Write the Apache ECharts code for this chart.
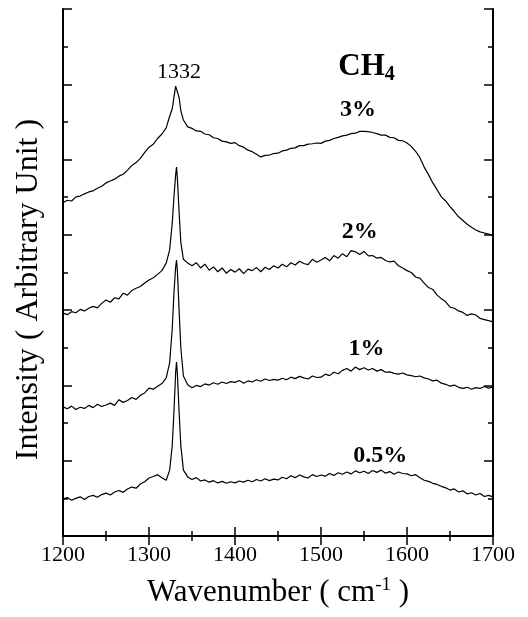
<!DOCTYPE html>
<html>
<head>
<meta charset="utf-8">
<script src="https://cdn.jsdelivr.net/npm/echarts@6/dist/echarts.min.js"></script>
<style>
  html, body { margin: 0; padding: 0; background: #fff; }
  #chart { width: 528px; height: 617px; }
</style>
</head>
<body>
<div id="chart"></div>
<script>
// wavenumber grid (cm-1), denser around the diamond line
var wn = [1200,1205,1210,1215,1220,1225,1230,1235,1240,1245,
  1250,1255,1260,1265,1270,1275,1280,1285,1290,1295,
  1300,1305,1310,1315,1320,
  1324,1327,1329,1331,1332,1333,1335,1337,1340,
  1345,1350,1355,1360,1365,1370,1375,1380,1385,1390,
  1395,1400,1405,1410,1415,1420,1425,1430,1435,1440,
  1445,1450,1455,1460,1465,1470,1475,1480,1485,1490,
  1495,1500,1505,1510,1515,1520,1525,1530,1535,1540,
  1545,1550,1555,1560,1565,1570,1575,1580,1585,1590,
  1595,1600,1605,1610,1615,1620,1625,1630,1635,1640,
  1645,1650,1655,1660,1665,1670,1675,1680,1685,1690,
  1695,1700];

// intensities, offset upward per curve (arbitrary units)
var ch4_05 = [0.98,1.02,0.95,1.00,1.04,0.97,1.05,1.08,1.03,1.10,
  1.14,1.09,1.17,1.21,1.16,1.25,1.30,1.27,1.38,1.44,
  1.54,1.58,1.63,1.55,1.48,
  1.75,2.40,3.30,4.35,4.62,4.30,3.30,2.40,1.75,
  1.57,1.50,1.55,1.46,1.49,1.43,1.47,1.41,1.45,1.40,
  1.44,1.41,1.46,1.43,1.48,1.44,1.50,1.46,1.52,1.47,
  1.51,1.49,1.56,1.52,1.60,1.55,1.62,1.57,1.54,1.63,
  1.58,1.62,1.59,1.66,1.61,1.68,1.64,1.70,1.65,1.73,
  1.68,1.72,1.66,1.74,1.69,1.75,1.67,1.71,1.64,1.70,
  1.66,1.65,1.60,1.63,1.55,1.48,1.45,1.40,1.37,1.32,
  1.28,1.22,1.25,1.17,1.20,1.12,1.15,1.09,1.13,1.05,
  1.08,1.04];

var ch4_1 = [3.43,3.38,3.45,3.36,3.42,3.39,3.47,3.41,3.50,3.44,
  3.48,3.53,3.47,3.62,3.55,3.60,3.68,3.63,3.74,3.80,
  3.93,3.90,3.98,4.05,4.20,
  4.60,5.50,6.45,7.15,7.33,7.05,6.00,5.00,4.25,
  4.02,3.94,4.00,3.97,4.04,4.01,4.07,4.03,4.09,4.05,
  4.10,4.08,4.13,4.06,4.12,4.09,4.15,4.11,4.17,4.13,
  4.16,4.14,4.19,4.15,4.22,4.18,4.24,4.20,4.17,4.25,
  4.21,4.22,4.30,4.26,4.35,4.31,4.40,4.45,4.38,4.49,
  4.42,4.47,4.41,4.45,4.38,4.42,4.35,4.36,4.32,4.30,
  4.33,4.28,4.26,4.23,4.25,4.20,4.17,4.12,4.14,4.06,
  4.03,3.98,4.01,3.95,3.92,3.95,3.90,3.94,3.92,3.97,
  3.93,3.96];

var ch4_2 = [5.92,5.88,5.96,5.93,6.02,5.98,6.05,6.10,6.06,6.18,
  6.27,6.21,6.33,6.30,6.45,6.40,6.52,6.58,6.63,6.72,
  6.80,6.86,6.95,7.05,7.25,
  7.60,8.30,9.00,9.60,9.80,9.50,8.60,7.80,7.35,
  7.25,7.18,7.26,7.12,7.22,7.06,7.15,7.02,7.12,6.98,
  7.08,7.01,7.10,6.97,7.09,7.05,7.13,7.02,7.14,7.08,
  7.18,7.12,7.22,7.15,7.26,7.20,7.30,7.24,7.21,7.35,
  7.27,7.33,7.40,7.31,7.45,7.38,7.50,7.42,7.58,7.55,
  7.48,7.56,7.44,7.45,7.38,7.40,7.32,7.28,7.30,7.18,
  7.12,7.05,7.00,6.88,6.85,6.72,6.60,6.55,6.40,6.30,
  6.22,6.08,6.05,5.98,5.94,5.86,5.90,5.87,5.78,5.75,
  5.72,5.69];

var ch4_3 = [8.85,8.92,8.90,9.01,9.03,9.09,9.14,9.17,9.24,9.29,
  9.38,9.43,9.48,9.56,9.61,9.72,9.84,9.92,10.03,10.19,
  10.33,10.41,10.56,10.68,10.84,
  11.15,11.35,11.65,11.95,11.98,11.90,11.65,11.30,11.05,
  10.87,10.83,10.76,10.75,10.68,10.66,10.58,10.56,10.49,10.47,
  10.43,10.45,10.37,10.33,10.25,10.21,10.14,10.07,10.11,10.12,
  10.16,10.17,10.23,10.25,10.30,10.31,10.37,10.37,10.41,10.42,
  10.44,10.43,10.49,10.51,10.56,10.59,10.63,10.65,10.69,10.70,
  10.75,10.75,10.74,10.72,10.69,10.65,10.65,10.59,10.58,10.51,
  10.50,10.44,10.35,10.22,10.05,9.80,9.60,9.38,9.20,9.01,
  8.90,8.75,8.62,8.48,8.38,8.28,8.20,8.13,8.08,8.05,
  8.02,7.99];

var seriesNames = ['0.5%', '1%', '2%', '3%'];
var curves = [ch4_05, ch4_1, ch4_2, ch4_3];

// annotations placed in data units
var noteX = [1335, 1553, 1543, 1545, 1553, 1569];
var noteY = [12.33, 12.46, 11.32, 8.08, 4.97, 2.13];
var noteText = ['1332', '{b|CH}{s|4}', '3%', '2%', '1%', '0.5%'];

var font = '"Liberation Serif", "Times New Roman", serif';

function pairs(ys) {
  return wn.map(function (x, i) { return [x, ys[i]]; });
}

var series = curves.map(function (c, k) {
  return {
    name: seriesNames[k],
    type: 'line',
    showSymbol: false,
    data: pairs(c),
    lineStyle: { color: '#000', width: 1.2 },
    silent: true
  };
});

var notes = noteText.map(function (t, i) {
  var item = { value: [noteX[i], noteY[i]], label: { formatter: t } };
  if (i === 0) {
    item.label.fontSize = 22;
    item.label.fontWeight = 'normal';
  }
  return item;
});

series.push({
  type: 'scatter',
  symbolSize: 0,
  silent: true,
  itemStyle: { opacity: 1, color: '#000' },
  data: notes,
  label: {
    show: true,
    position: 'inside',
    color: '#000',
    fontFamily: font,
    fontWeight: 'bold',
    fontSize: 24,
    rich: {
      b: { fontFamily: font, fontWeight: 'bold', fontSize: 31, color: '#000' },
      s: { fontFamily: font, fontWeight: 'bold', fontSize: 20, color: '#000', padding: [16, 0, 0, 0] }
    }
  }
});

var axisLine = { show: true, lineStyle: { color: '#000', width: 2 } };
var tick = { show: true, inside: true, length: 9, lineStyle: { color: '#000', width: 1.5 } };
var minor = { show: true, splitNumber: 2, length: 5, lineStyle: { color: '#000', width: 1.5 } };

var myChart = echarts.init(document.getElementById('chart'));
myChart.setOption({
  animation: false,
  backgroundColor: '#fff',
  grid: { left: 63, right: 35, top: 9, bottom: 81 },
  xAxis: [{
    type: 'value', position: 'bottom', min: 1200, max: 1700, interval: 100,
    axisLine: axisLine, axisTick: tick, minorTick: minor,
    splitLine: { show: false },
    axisLabel: {
      color: '#000', fontFamily: font, fontSize: 22, margin: 8,
      formatter: function (v) { return String(v); }
    },
    name: 'Wavenumber ( cm{sup|-1} )',
    nameLocation: 'middle', nameGap: 40,
    nameTextStyle: {
      color: '#000', fontFamily: font, fontSize: 31,
      rich: { sup: { fontFamily: font, fontSize: 19, color: '#000', padding: [0, 0, 14, 0] } }
    }
  }, {
    type: 'value', position: 'top', min: 1200, max: 1700, interval: 100,
    axisLine: axisLine, axisTick: tick, minorTick: minor,
    splitLine: { show: false }, axisLabel: { show: false }
  }],
  yAxis: [{
    type: 'value', position: 'left', min: 0, max: 14, interval: 2,
    axisLine: axisLine, axisTick: tick, minorTick: minor,
    splitLine: { show: false }, axisLabel: { show: false },
    name: 'Intensity ( Arbitrary Unit )',
    nameLocation: 'middle', nameGap: 18,
    nameTextStyle: { color: '#000', fontFamily: font, fontSize: 32, padding: [0, 34, 0, 0] }
  }, {
    type: 'value', position: 'right', min: 0, max: 14, interval: 2,
    axisLine: axisLine, axisTick: tick, minorTick: minor,
    splitLine: { show: false }, axisLabel: { show: false }
  }],
  series: series
});
</script>
</body>
</html>
